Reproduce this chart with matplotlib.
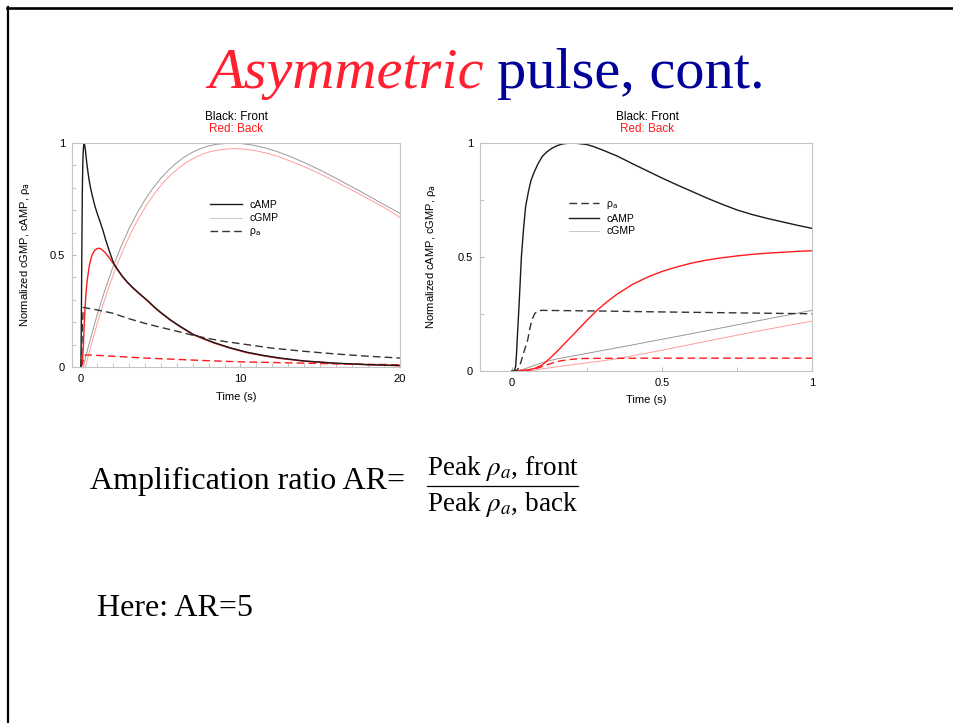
import matplotlib
matplotlib.use('Agg')
import matplotlib.pyplot as plt
from matplotlib.lines import Line2D
from matplotlib.ticker import MultipleLocator

W, H = 954, 723

# ---- left panel: 0-20 s ----
t_camp_f = [0, 0.03, 0.06, 0.09, 0.12, 0.15, 0.18, 0.21, 0.25, 0.3, 0.36, 0.43, 0.5, 0.6,
            0.73, 0.85, 1.0, 1.2, 1.38, 1.55, 1.7, 1.85, 2.05, 2.3, 2.6, 2.9, 3.2, 3.6,
            4.14, 4.6, 5.0, 5.6, 6.23, 7.06, 7.7, 8.3, 9.3, 10.4, 11.5, 12.5, 14, 16, 18, 20]
camp_f = [0, 0.25, 0.55, 0.8, 0.92, 0.97, 0.993, 1.0, 0.985, 0.955, 0.915, 0.875, 0.84, 0.8,
          0.76, 0.725, 0.69, 0.648, 0.61, 0.568, 0.535, 0.503, 0.463, 0.435, 0.405, 0.38, 0.358, 0.332,
          0.299, 0.268, 0.244, 0.211, 0.181, 0.145, 0.127, 0.11, 0.087, 0.066, 0.051, 0.04, 0.027, 0.017, 0.0105, 0.0065]

t_camp_b = [0, 0.1, 0.15, 0.2, 0.25, 0.3, 0.35, 0.4, 0.46, 0.52, 0.6, 0.7, 0.85, 1.0, 1.1,
            1.2, 1.3, 1.5, 1.75, 2.05, 2.3, 2.6, 2.9, 3.2, 3.6, 4.14, 4.6, 5.0, 5.6, 6.23,
            7.06, 7.7, 8.3, 9.3, 10.4, 11.5, 12.5, 14, 16, 18, 20]
camp_b = [0, 0.03, 0.09, 0.18, 0.25, 0.31, 0.355, 0.39, 0.42, 0.45, 0.475, 0.5, 0.52, 0.528, 0.53,
          0.529, 0.525, 0.512, 0.49, 0.46, 0.433, 0.403, 0.378, 0.356, 0.33, 0.297, 0.266, 0.242, 0.209, 0.179,
          0.143, 0.125, 0.108, 0.085, 0.064, 0.049, 0.038, 0.026, 0.016, 0.01, 0.006]

t_cgmp_f = [0.14, 0.5, 1.0, 1.5, 2.0, 2.5, 3.0, 3.5, 4.0, 4.5, 5.0, 5.5, 6.0, 6.5, 7.0, 7.5,
            8.0, 8.5, 9.3, 10, 10.75, 11.5, 12.25, 13, 14, 15, 16, 17, 18, 19, 20]
cgmp_f = [0, 0.101, 0.229, 0.343, 0.445, 0.535, 0.615, 0.684, 0.745, 0.797, 0.842, 0.88, 0.912, 0.938,
          0.959, 0.975, 0.987, 0.994, 1.0, 0.998, 0.991, 0.979, 0.963, 0.943, 0.913, 0.879, 0.842, 0.804,
          0.765, 0.725, 0.686]

t_cgmp_b = [0.28, 0.64, 1.14, 1.64, 2.14, 2.64, 3.14, 3.64, 4.14, 4.64, 5.14, 5.64, 6.14, 6.64,
            7.14, 7.64, 8.14, 8.64, 9.44, 10.14, 10.89, 11.64, 12.39, 13.14, 14.14, 15.14, 16.14,
            17.14, 18.14, 19.14, 20]
cgmp_b = [0, 0.098, 0.223, 0.334, 0.434, 0.522, 0.6, 0.667, 0.726, 0.777, 0.821, 0.858, 0.889, 0.915,
          0.935, 0.951, 0.962, 0.969, 0.975, 0.973, 0.966, 0.955, 0.939, 0.919, 0.89, 0.857, 0.821,
          0.784, 0.746, 0.707, 0.667]

t_rho_f = [0, 0.05, 0.1, 0.15, 0.3, 1, 2, 3, 4, 5, 6, 7, 8, 9, 10, 12, 14, 16, 18, 20]
rho_f = [0, 0.08, 0.2, 0.266, 0.264, 0.255, 0.24, 0.216, 0.195, 0.177, 0.16, 0.142, 0.127, 0.114, 0.104,
         0.084, 0.07, 0.058, 0.048, 0.04]

t_rho_b = [0, 0.1, 0.2, 0.3, 1, 2, 4, 6, 8, 10, 12, 14, 16, 18, 20]
rho_b = [0, 0.015, 0.045, 0.054, 0.052, 0.048, 0.04, 0.034, 0.028, 0.023, 0.02, 0.017, 0.014, 0.012, 0.01]

# ---- right panel: 0-1 s ----
t2_camp_f = [0, 0.008, 0.012, 0.015, 0.018, 0.023, 0.027, 0.031, 0.038, 0.045, 0.055, 0.063,
             0.072, 0.085, 0.1, 0.115, 0.133, 0.15, 0.165, 0.18, 0.2, 0.22, 0.25, 0.27, 0.3,
             0.35, 0.4, 0.45, 0.5, 0.55, 0.6, 0.65, 0.7, 0.75, 0.8, 0.85, 0.9, 0.95, 1.0]
camp2_f = [0, 0, 0.02, 0.08, 0.16, 0.281, 0.39, 0.5, 0.62, 0.72, 0.79, 0.835,
           0.867, 0.905, 0.94, 0.96, 0.977, 0.988, 0.995, 0.998, 1.0, 0.998, 0.993, 0.985, 0.97,
           0.943, 0.91, 0.878, 0.846, 0.816, 0.787, 0.758, 0.731, 0.706, 0.686, 0.669, 0.654, 0.639, 0.625]

t2_rho_f = [0, 0.014, 0.022, 0.03, 0.04, 0.052, 0.06, 0.067, 0.075, 0.083, 0.092, 0.1, 0.3, 0.5, 0.75, 1.0]
rho2_f = [0, 0, 0.012, 0.04, 0.085, 0.135, 0.19, 0.225, 0.25, 0.26, 0.264, 0.265, 0.262, 0.258, 0.254, 0.25]

t2_camp_b = [0, 0.05, 0.075, 0.1, 0.125, 0.15, 0.183, 0.2, 0.222, 0.25, 0.283, 0.316, 0.35, 0.4,
             0.45, 0.5, 0.55, 0.6, 0.65, 0.7, 0.75, 0.8, 0.85, 0.9, 0.95, 1.0]
camp2_b = [0, 0.003, 0.01, 0.025, 0.053, 0.085, 0.13, 0.153, 0.183, 0.222, 0.265, 0.302, 0.336, 0.378,
           0.41, 0.436, 0.456, 0.473, 0.486, 0.496, 0.504, 0.511, 0.516, 0.52, 0.524, 0.527]

t2_rho_b = [0, 0.045, 0.07, 0.1, 0.125, 0.15, 0.175, 0.2, 0.225, 0.25, 0.5, 1.0]
rho2_b = [0, 0, 0.006, 0.018, 0.03, 0.04, 0.046, 0.05, 0.053, 0.054, 0.055, 0.055]

t2_cgmp_f = [0, 0.02, 0.035, 0.05, 0.075, 0.1, 0.125, 0.15, 0.2, 0.4, 0.6, 0.8, 1.0]
cgmp2_f = [0, 0, 0.005, 0.012, 0.024, 0.035, 0.044, 0.052, 0.064, 0.113, 0.163, 0.214, 0.265]

t2_cgmp_b = [0, 0.06, 0.08, 0.1, 0.15, 0.2, 0.34, 0.5, 0.7, 0.84, 1.0]
cgmp2_b = [0, 0, 0.003, 0.008, 0.017, 0.026, 0.05, 0.09, 0.143, 0.179, 0.218]

BLACK = '#1a1a1a'
DASHK = '#333333'
GRAYC = '#999999'
RED = '#ff1a1a'
PINK = '#ff9c9c'
SANS = 'Liberation Sans'
SERIF = 'Liberation Serif'
RHO = 'ρ$_\\mathrm{a}$'


def px(x):
    return x / W


def py(y):
    return 1 - y / H


fig = plt.figure(figsize=(W / 100, H / 100), dpi=100)

# slide frame
fig.add_artist(Line2D([px(7), px(954)], [py(8), py(8)], color='black', lw=1.9))
fig.add_artist(Line2D([px(8), px(8)], [py(7), py(723)], color='black', lw=1.6))

# title
fig.text(px(484), py(88), 'Asymmetric', family=SERIF, style='italic', fontsize=42,
         color='#ff2030', ha='right', va='baseline')
fig.text(px(497), py(88), 'pulse, cont.', family=SERIF, fontsize=42,
         color='#000099', ha='left', va='baseline')


def style_axes(ax):
    for s in ax.spines.values():
        s.set_color('#c4c4c4')
        s.set_linewidth(0.8)
    ax.tick_params(which='both', direction='in', color='#b8b8b8', labelsize=8,
                   labelcolor='black', pad=5, top=False, right=False)
    ax.tick_params(which='major', length=3)
    ax.tick_params(which='minor', length=3)
    for lab in ax.get_xticklabels() + ax.get_yticklabels():
        lab.set_family(SANS)


# left panel
ax1 = fig.add_axes([px(72), py(367), px(400) - px(72), py(143) - py(367)])
ax1.plot(t_cgmp_b, cgmp_b, color=PINK, lw=0.7)
ax1.plot(t_cgmp_f, cgmp_f, color=GRAYC, lw=0.7)
ax1.plot(t_rho_b, rho_b, color=RED, lw=1.0, dashes=(5.5, 3))
ax1.plot(t_camp_b, camp_b, color=RED, lw=1.0)
h_camp, = ax1.plot(t_camp_f, camp_f, color=BLACK, lw=1.0, label='cAMP')
h_rho, = ax1.plot(t_rho_f, rho_f, color=DASHK, lw=1.0, dashes=(5.5, 3), label=RHO)
h_cgmp = Line2D([], [], color='#c8c8c8', lw=0.7, label='cGMP')
ax1.set_xlim(-0.56, 20)
ax1.set_ylim(0, 1)
ax1.set_xticks([0, 10, 20])
ax1.set_xticklabels(['0', '10', '20'])
ax1.set_yticks([0, 0.5, 1])
ax1.set_yticklabels(['0', '0.5', '1'])
ax1.xaxis.set_minor_locator(MultipleLocator(1))
ax1.yaxis.set_minor_locator(MultipleLocator(0.1))
style_axes(ax1)
ax1.set_xlabel('Time (s)', family=SANS, fontsize=8)
ax1.xaxis.set_label_coords(0.5, -0.112)
ax1.set_ylabel('Normalized cGMP, cAMP, ' + RHO, family=SANS, fontsize=8)
ax1.yaxis.set_label_coords(-0.122, 0.5)
ax1.legend(handles=[h_camp, h_cgmp, h_rho], loc='upper left', bbox_to_anchor=(0.42, 0.745),
           frameon=False, borderpad=0, borderaxespad=0, handlelength=3.1, handletextpad=0.7,
           labelspacing=0.3, prop={'family': SANS, 'size': 7.5})

# right panel
ax2 = fig.add_axes([px(480), py(370.7), px(812) - px(480), py(143) - py(370.7)])
ax2.plot(t2_cgmp_b, cgmp2_b, color=PINK, lw=0.7)
ax2.plot(t2_cgmp_f, cgmp2_f, color=GRAYC, lw=0.7)
ax2.plot(t2_rho_b, rho2_b, color=RED, lw=1.0, dashes=(5.5, 3))
ax2.plot(t2_camp_b, camp2_b, color=RED, lw=1.0)
g_camp, = ax2.plot(t2_camp_f, camp2_f, color=BLACK, lw=1.0, label='cAMP')
g_rho, = ax2.plot(t2_rho_f, rho2_f, color=DASHK, lw=1.0, dashes=(5.5, 3), label=RHO)
g_cgmp = Line2D([], [], color='#c8c8c8', lw=0.7, label='cGMP')
ax2.set_xlim(-0.107, 1)
ax2.set_ylim(0, 1)
ax2.set_xticks([0, 0.5, 1])
ax2.set_xticklabels(['0', '0.5', '1'])
ax2.set_yticks([0, 0.5, 1])
ax2.set_yticklabels(['0', '0.5', '1'])
ax2.xaxis.set_minor_locator(MultipleLocator(0.25))
ax2.yaxis.set_minor_locator(MultipleLocator(0.25))
style_axes(ax2)
ax2.set_xlabel('Time (s)', family=SANS, fontsize=8)
ax2.xaxis.set_label_coords(0.5, -0.107)
ax2.set_ylabel('Normalized cAMP, cGMP, ' + RHO, family=SANS, fontsize=8)
ax2.yaxis.set_label_coords(-0.127, 0.5)
ax2.legend(handles=[g_rho, g_camp, g_cgmp], loc='upper left', bbox_to_anchor=(0.268, 0.754),
           frameon=False, borderpad=0, borderaxespad=0, handlelength=2.9, handletextpad=0.7,
           labelspacing=0.25, prop={'family': SANS, 'size': 7.5})

# panel headings
for cx in (236, 647):
    fig.text(px(cx), py(117), 'Black: Front', ha='center', va='center',
             family=SANS, fontsize=8.5, color='black')
    fig.text(px(cx), py(129), 'Red: Back', ha='center', va='center',
             family=SANS, fontsize=8.5, color=RED)

# amplification ratio
fig.text(px(90), py(489), 'Amplification ratio AR=', family=SERIF, fontsize=23,
         ha='left', va='baseline')
fig.text(px(503), py(475), r'Peak $\rho_a$, front', family=SERIF, fontsize=19.5,
         math_fontfamily='stix', ha='center', va='baseline')
fig.add_artist(Line2D([px(427), px(578)], [py(486), py(486)], color='black', lw=0.9))
fig.text(px(502), py(511), r'Peak $\rho_a$, back', family=SERIF, fontsize=19.5,
         math_fontfamily='stix', ha='center', va='baseline')
fig.text(px(97), py(616), 'Here: AR=5', family=SERIF, fontsize=23, ha='left', va='baseline')

fig.savefig('out.png', dpi=100)
